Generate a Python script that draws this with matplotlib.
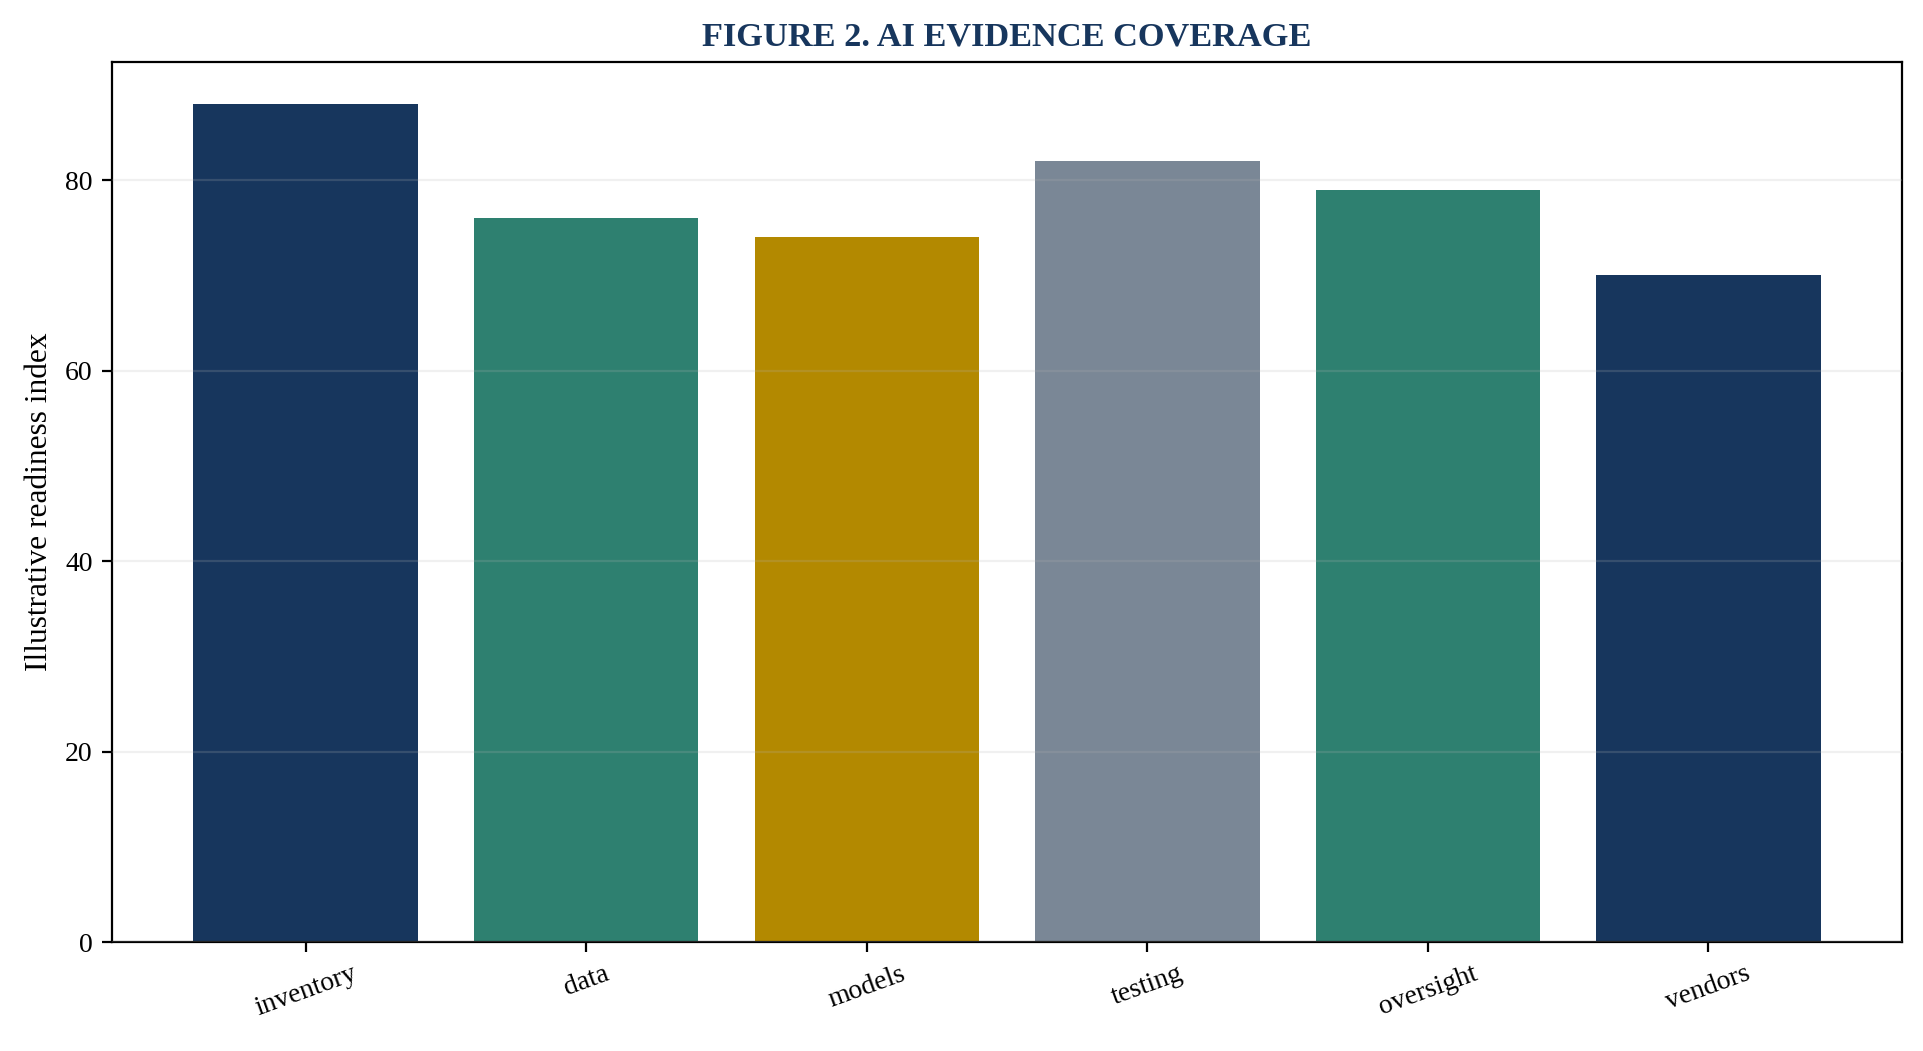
import numpy as np
import matplotlib
matplotlib.use('Agg')
import matplotlib.pyplot as plt

plt.rcParams['font.family'] = ['Liberation Serif', 'DejaVu Serif']

# Data
categories = ['inventory', 'data', 'models', 'testing', 'oversight', 'vendors']
values = [88, 76, 74, 82, 79, 70]
bar_colors = ['#17365D', '#2E8070', '#B38900', '#7A8796', '#2E8070', '#17365D']

fig = plt.figure(figsize=(9.62, 5.255), dpi=200)
ax = fig.add_axes([0.0582, 0.1037, 0.9304, 0.8373])

x = np.arange(len(categories))
ax.bar(x, values, width=0.8, color=bar_colors)

ax.set_xticks(x)
ax.set_xticklabels(categories, rotation=20, ha='center', fontsize=10)
ax.tick_params(axis='y', labelsize=10)
ax.set_ylabel('Illustrative readiness index', fontsize=11.3)
ax.set_title('FIGURE 2. AI EVIDENCE COVERAGE', fontsize=12.4, fontweight='bold',
             color='#17365D')

# grid sits on top of the bars, faint
ax.set_axisbelow(False)
ax.grid(axis='y', color='#b4b4b4', alpha=0.2, linewidth=0.8)

fig.savefig('out.png', dpi=200)
